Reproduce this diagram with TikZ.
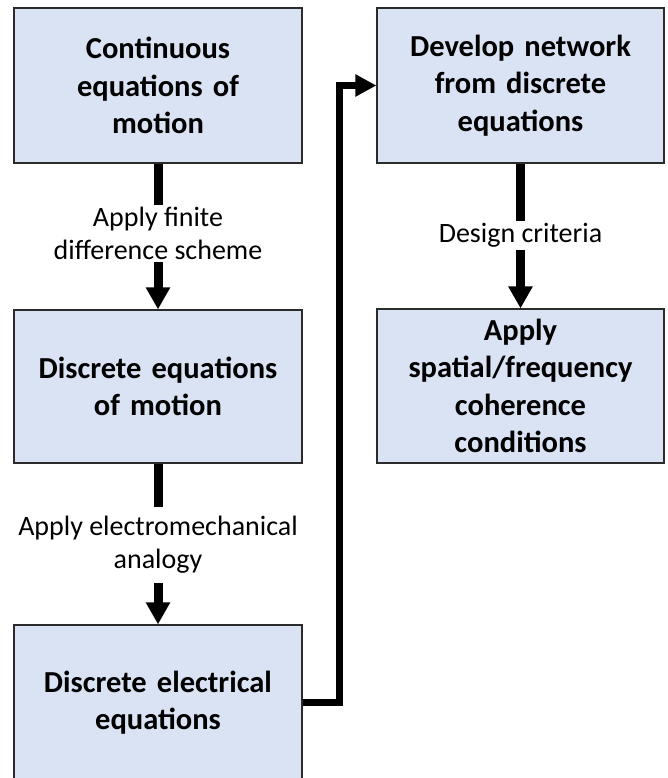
\documentclass[tikz,border=0pt]{standalone}
\usepackage{fontspec}
\setmainfont{Carlito}
\usetikzlibrary{arrows.meta}
\definecolor{boxblue}{HTML}{DAE3F3}
\definecolor{boxedge}{HTML}{2B2B2B}
\tikzset{
  stepbox/.style={draw=boxedge, line width=1.2pt, fill=boxblue,
    minimum width=288pt, minimum height=155pt, inner sep=0pt,
    align=center, text width=280pt,
    font=\bfseries\fontsize{30.5}{37.5}\selectfont},
  steplabel/.style={inner sep=0pt, align=center,
    font=\fontsize{28}{33}\selectfont},
  flow/.style={line width=9pt},
  flowarrow/.style={line width=9pt, -{Triangle[width=23pt,length=22pt]}},
  elbow/.style={line width=7pt, line join=miter,
    -{Triangle[width=21pt,length=21pt]}}
}
\begin{document}
\begin{tikzpicture}[x=1pt,y=-1pt]
\useasboundingbox (0,0) rectangle (668,778);
\clip (0,0) rectangle (668,778);

% left column
\node[stepbox] (b1) at (158,85.5) {Continuous\\equations of\\motion};
\node[stepbox, minimum height=153pt] (b2) at (158,386.5) {Discrete equations\\of motion};
\node[stepbox] (b3) at (158,702.5) {Discrete electrical\\equations};

% right column
\node[stepbox, minimum width=287pt] (b4) at (520.5,85.5) {Develop network\\from discrete\\equations};
\node[stepbox, minimum width=287pt, minimum height=154pt] (b5) at (520.5,386) {Apply\\spatial/frequency\\coherence\\conditions};

% connector labels
\node[steplabel, minimum height=57pt] (l1) at (158,233.5) {Apply finite\\difference scheme};
\node[steplabel, minimum height=76pt] (l2) at (158,545) {Apply electromechanical\\analogy};
\node[steplabel, minimum height=29pt] (l3) at (520.5,235.5) {Design criteria};

% connectors
\draw[flow] (b1.south) -- (l1.north);
\draw[flowarrow] (l1.south) -- (b2.north);
\draw[flow] (b2.south) -- (l2.north);
\draw[flowarrow] (l2.south) -- (b3.north);
\draw[flow] (b4.south) -- (l3.north);
\draw[flowarrow] (l3.south) -- (b5.north);
\draw[elbow] (b3.east) -- ++(37,0) |- (b4.west);
\end{tikzpicture}
\end{document}
